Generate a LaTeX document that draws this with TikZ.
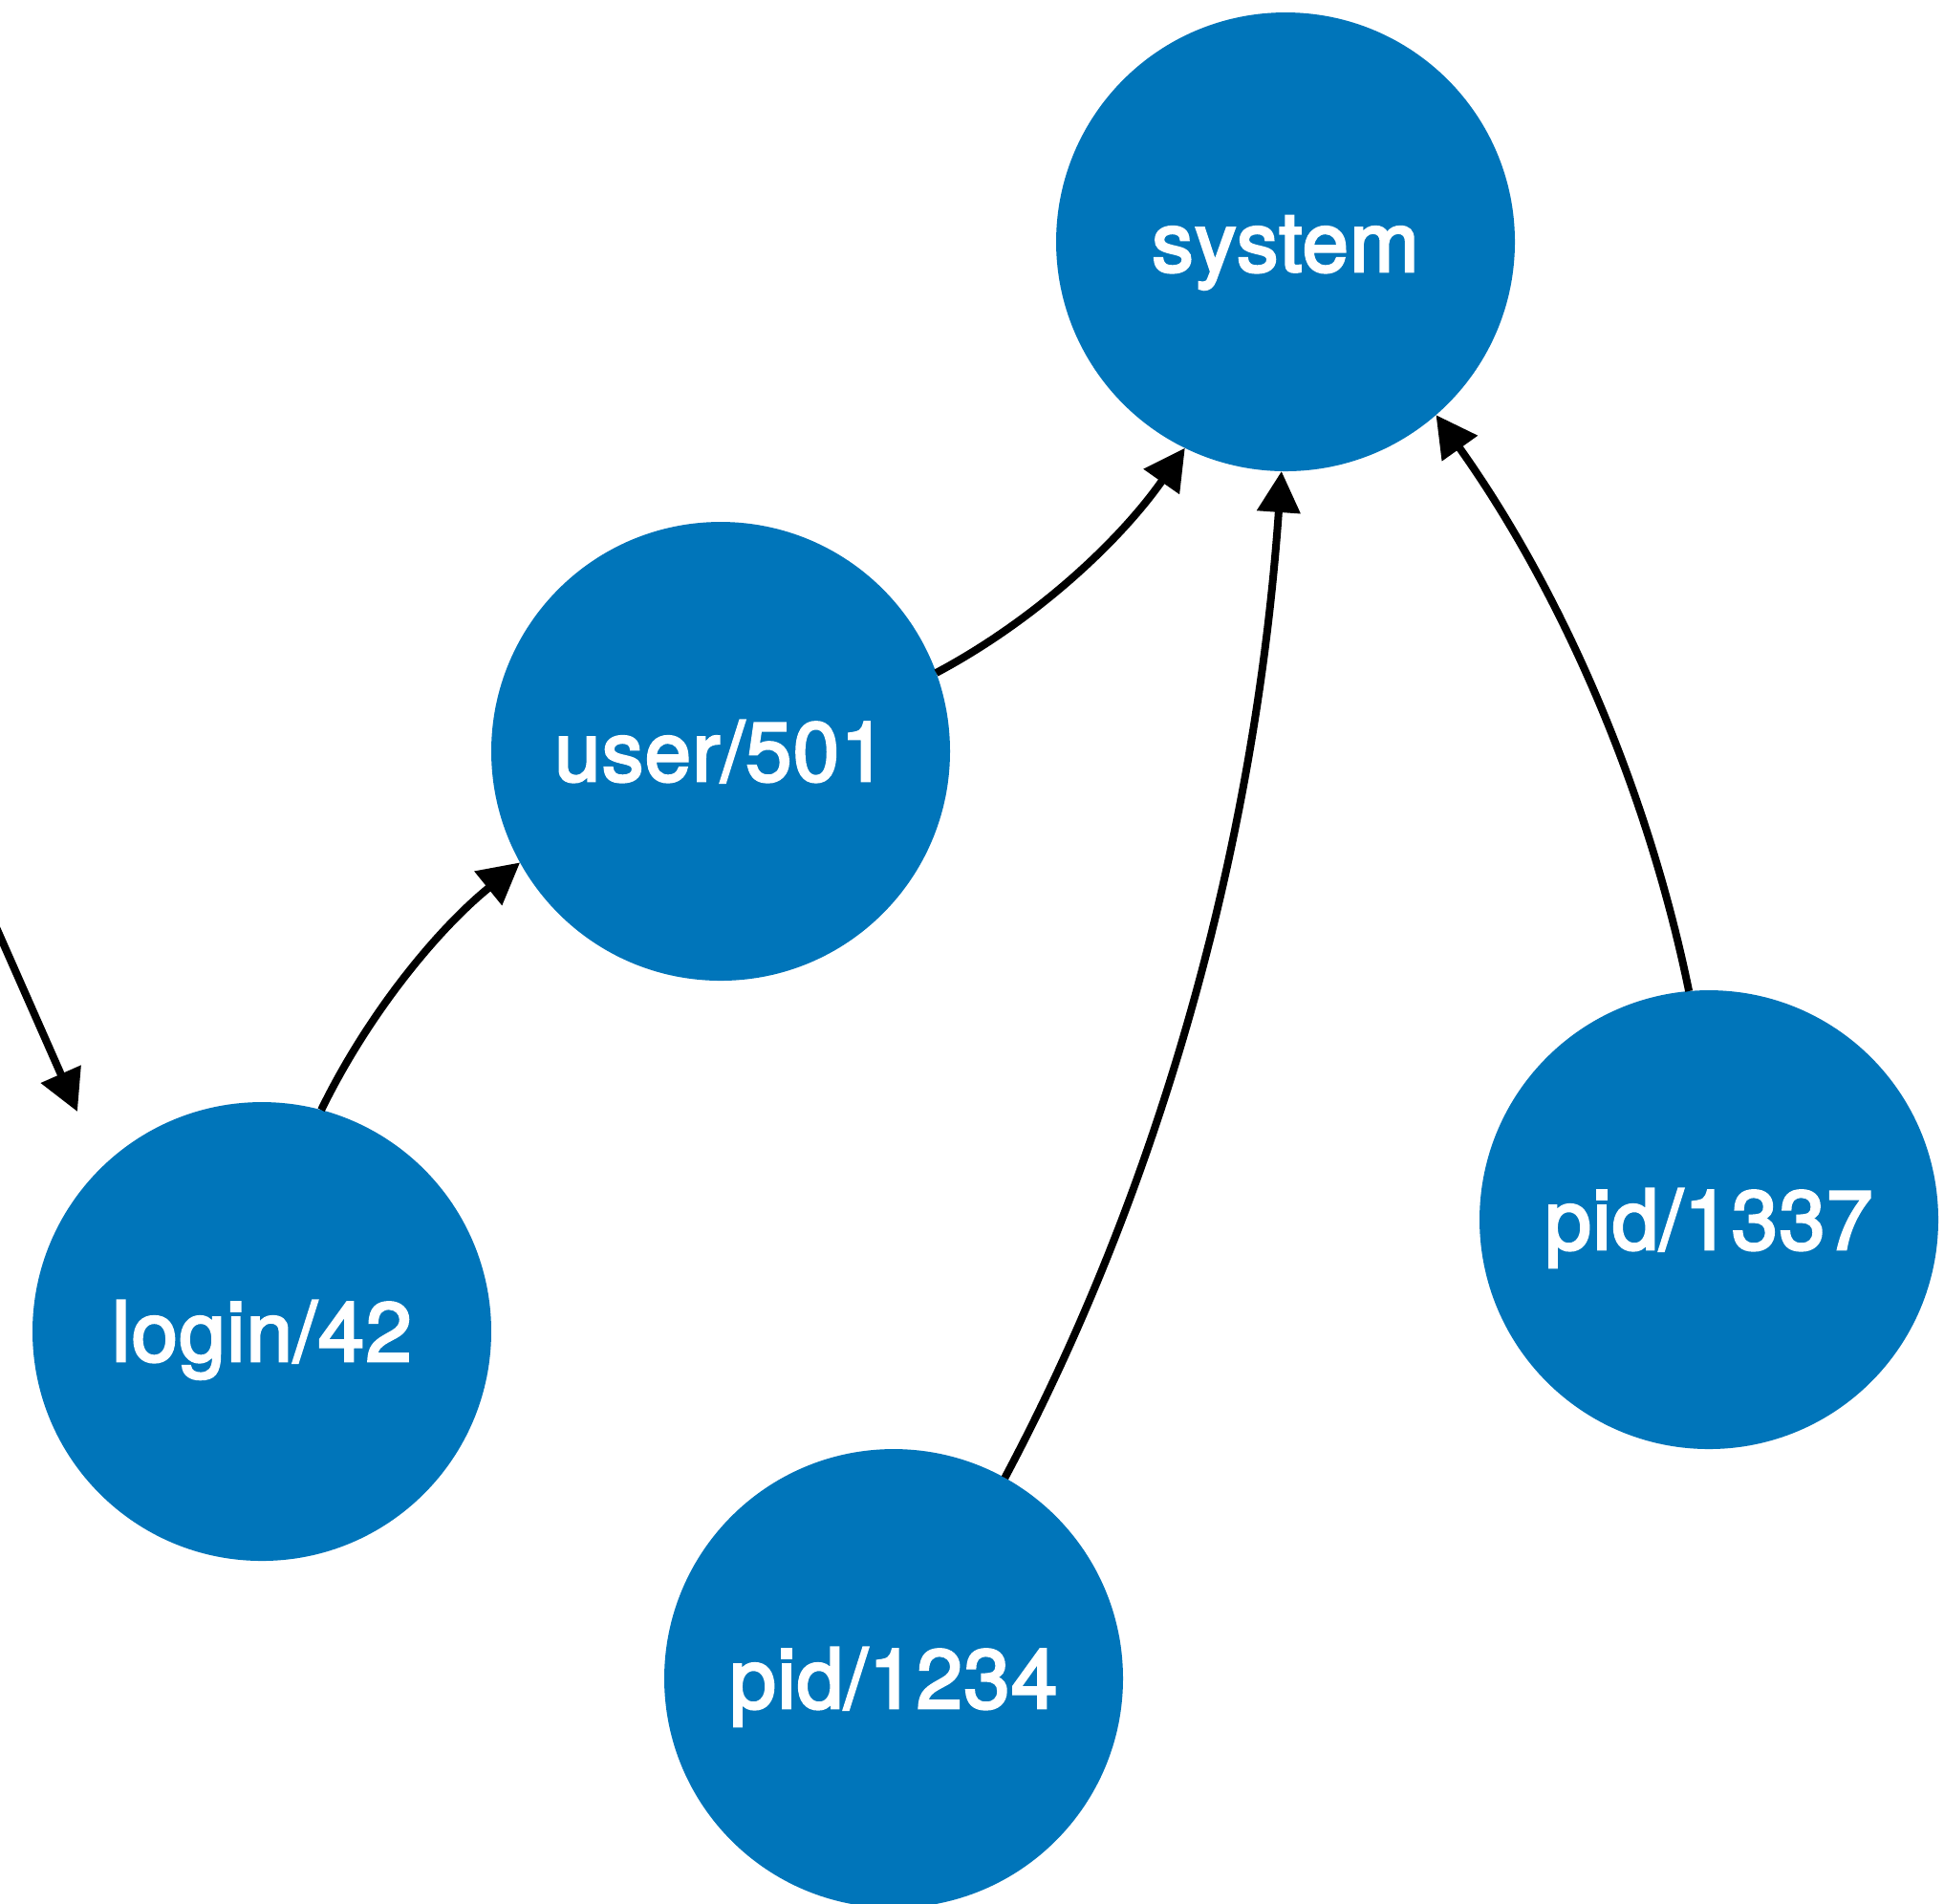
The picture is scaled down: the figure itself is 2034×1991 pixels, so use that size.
\documentclass[tikz,border=0pt]{standalone}
\usepackage{fontspec}
\setmainfont[FakeBold=3,LetterSpace=1.5]{TeX Gyre Heros}
\usetikzlibrary{arrows.meta}
\definecolor{nodeblue}{RGB}{0,117,186}
\begin{document}
\begin{tikzpicture}[x=0.1pt,y=-0.1pt,
  vertex/.style={circle,fill=nodeblue,minimum size=48pt,inner sep=0pt,outer sep=0pt,
    text=white,font=\fontsize{8.7}{10}\selectfont,text height=6.2pt,text depth=0pt},
  link/.style={line width=0.8pt,-{Triangle[length=4.3pt,width=4.4pt]}}]
\useasboundingbox (0,0) rectangle (2034,1991);
\fill[white] (0,0) rectangle (2034,1991);
\node[vertex] (system) at (1345,253) {system};
\node[vertex] (user) at (754,786) {user/501};
\node[vertex] (login) at (274,1393) {login/42};
\node[vertex] (pidA) at (935,1756) {pid/1234};
\node[vertex] (pidB) at (1788,1276) {pid/1337};
\coordinate (extStart) at (-20,934);
\coordinate (extTip) at (81,1163);
\draw[link] (extStart) -- (extTip);
\draw[link] (login.75) to[out=64,in=219,looseness=0.86] (user.209);
\draw[link] (user.20) to[out=28,in=235,looseness=0.86] (system.244);
\draw[link] (pidA.61) to[out=62,in=266,looseness=0.86] (system.269);
\draw[link] (pidB.95.5) to[out=101.6,in=305.5,looseness=0.86] (system.311.5);
\end{tikzpicture}
\end{document}
